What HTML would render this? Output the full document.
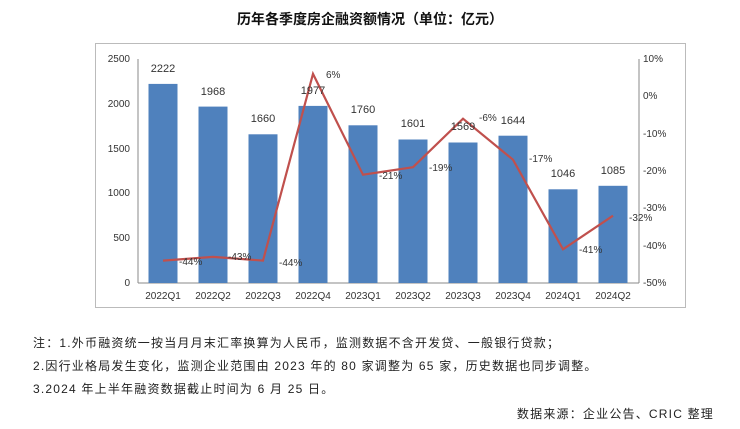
<!DOCTYPE html>
<html><head><meta charset="utf-8"><style>
body{margin:0;width:740px;height:429px;background:#fff;overflow:hidden;font-family:"Liberation Sans","Noto Sans CJK SC",sans-serif;}
.t{position:absolute;font-size:12px;color:#222;white-space:nowrap}
.n{letter-spacing:1.2px}
</style></head><body>
<div class="t" style="left:0;width:740px;text-align:center;top:9px;font-size:14px;font-weight:bold;color:#111">历年各季度房企融资额情况（单位：亿元）</div>
<svg width="740" height="429" style="position:absolute;left:0;top:0" font-family="Liberation Sans, sans-serif" font-size="10" fill="#333">
<rect x="95.5" y="43.5" width="590" height="264" fill="none" stroke="#bbb"/>
<line x1="138" y1="59" x2="138" y2="283" stroke="#888"/>
<line x1="138" y1="283" x2="639" y2="283" stroke="#888"/>
<line x1="639" y1="59" x2="639" y2="283" stroke="#888"/>
<g text-anchor="end">
<text x="130" y="62">2500</text><text x="130" y="107">2000</text><text x="130" y="152">1500</text><text x="130" y="196">1000</text><text x="130" y="241">500</text><text x="130" y="286">0</text>
</g>
<g>
<text x="643" y="62">10%</text><text x="643" y="99">0%</text><text x="643" y="137">-10%</text><text x="643" y="174">-20%</text><text x="643" y="211">-30%</text><text x="643" y="249">-40%</text><text x="643" y="286">-50%</text>
</g>
<g fill="#4f81bd">
<rect x="148.5" y="83.9" width="29" height="199.1"/>
<rect x="198.5" y="106.6" width="29" height="176.4"/>
<rect x="248.5" y="134.3" width="29" height="148.7"/>
<rect x="298.5" y="105.9" width="29" height="177.1"/>
<rect x="348.5" y="125.3" width="29" height="157.7"/>
<rect x="398.5" y="139.5" width="29" height="143.5"/>
<rect x="448.5" y="142.5" width="29" height="140.5"/>
<rect x="498.5" y="135.7" width="29" height="147.3"/>
<rect x="548.5" y="189.3" width="29" height="93.7"/>
<rect x="598.5" y="185.8" width="29" height="97.2"/>
</g>
<polyline fill="none" stroke="#c0504d" stroke-width="2.2" points="163,260.6 213,256.9 263,260.6 313,73.9 363,174.7 413,167.2 463,118.7 513,159.7 563,249.3 613,215.7"/>
<g text-anchor="middle" font-size="11">
<text x="163" y="72">2222</text><text x="213" y="95">1968</text><text x="263" y="122">1660</text><text x="313" y="94">1977</text><text x="363" y="113">1760</text><text x="413" y="127">1601</text><text x="463" y="130">1569</text><text x="513" y="124">1644</text><text x="563" y="177">1046</text><text x="613" y="174">1085</text>
</g>
<g font-size="10">
<text x="179" y="265">-44%</text><text x="228" y="260">-43%</text><text x="279" y="266">-44%</text><text x="326" y="78">6%</text><text x="379" y="179">-21%</text><text x="429" y="171">-19%</text><text x="479" y="121">-6%</text><text x="529" y="162">-17%</text><text x="579" y="253">-41%</text><text x="629" y="221">-32%</text>
</g>
<g text-anchor="middle" font-size="10">
<text x="163" y="299">2022Q1</text><text x="213" y="299">2022Q2</text><text x="263" y="299">2022Q3</text><text x="313" y="299">2022Q4</text><text x="363" y="299">2023Q1</text><text x="413" y="299">2023Q2</text><text x="463" y="299">2023Q3</text><text x="513" y="299">2023Q4</text><text x="563" y="299">2024Q1</text><text x="613" y="299">2024Q2</text>
</g>
</svg>
<div class="t n" style="left:33px;top:334px">注：1.外币融资统一按当月月末汇率换算为人民币，监测数据不含开发贷、一般银行贷款；</div>
<div class="t n" style="left:33px;top:357px">2.因行业格局发生变化，监测企业范围由 2023 年的 80 家调整为 65 家，历史数据也同步调整。</div>
<div class="t n" style="left:33px;top:380px">3.2024 年上半年融资数据截止时间为 6 月 25 日。</div>
<div class="t n" style="right:26px;top:405px">数据来源：企业公告、CRIC 整理</div>
</body></html>
